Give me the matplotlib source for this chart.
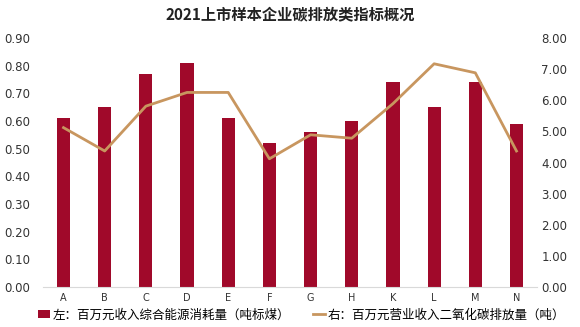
import matplotlib
matplotlib.use("Agg")
import matplotlib.pyplot as plt
import numpy as np

plt.rcParams['font.family'] = ['Noto Sans CJK SC', 'DejaVu Sans']

categories = ["A", "B", "C", "D", "E", "F", "G", "H", "K", "L", "M", "N"]
energy = [0.61, 0.65, 0.77, 0.81, 0.61, 0.52, 0.56, 0.60, 0.74, 0.65, 0.74, 0.59]
co2 = [5.12, 4.37, 5.81, 6.25, 6.25, 4.12, 4.89, 4.78, 5.89, 7.17, 6.88, 4.37]
left_ticks = [0.0, 0.1, 0.2, 0.3, 0.4, 0.5, 0.6, 0.7, 0.8, 0.9]
right_ticks = [0, 1, 2, 3, 4, 5, 6, 7, 8]
title = "2021上市样本企业碳排放类指标概况"
label_left = "左：百万元收入综合能源消耗量（吨标煤）"
label_right = "右：百万元营业收入二氧化碳排放量（吨）"

bar_color = "#A0092A"
line_color = "#C8965F"

fig = plt.figure(figsize=(5.8, 3.27), dpi=100)
ax = fig.add_axes([0.074, 0.122, 0.852, 0.762])
x = np.arange(len(categories))
b = ax.bar(x, energy, width=0.32, color=bar_color, label=label_left, zorder=2)
ax.set_xlim(-0.5, len(categories) - 0.5)
ax.set_ylim(0, 0.9)
ax.set_yticks(left_ticks)
ax.set_yticklabels([f"{v:.2f}" for v in left_ticks], fontsize=8.5, color="#333333", family="DejaVu Sans")
ax.set_xticks(x)
ax.set_xticklabels(categories, fontsize=7, color="#333333", family="DejaVu Sans")
ax.tick_params(axis='x', length=0, pad=4)
ax.tick_params(axis='y', length=0, pad=9)
for s in ["top", "right", "left"]:
    ax.spines[s].set_visible(False)
ax.spines["bottom"].set_color("#D9D9D9")

ax2 = ax.twinx()
l, = ax2.plot(x, co2, color=line_color, lw=2, label=label_right, zorder=3)
ax2.set_ylim(0, 8)
ax2.set_yticks(right_ticks)
ax2.set_yticklabels([f"{v:.2f}" for v in right_ticks], fontsize=8.5, color="#333333", family="DejaVu Sans")
ax2.tick_params(axis='y', length=0, pad=3)
for s in ["top", "right", "left", "bottom"]:
    ax2.spines[s].set_visible(False)

fig.text(0.5, 0.955, title, ha='center', va='center', fontsize=11, fontweight='bold', color="#222222")

fig.legend(handles=[b, l], labels=[label_left, label_right], loc='center',
           bbox_to_anchor=(0.52, 0.037), ncol=2, frameon=False, fontsize=9,
           handlelength=1.0, handletextpad=0.2, columnspacing=1.8)

fig.savefig("out.png", dpi=100)
